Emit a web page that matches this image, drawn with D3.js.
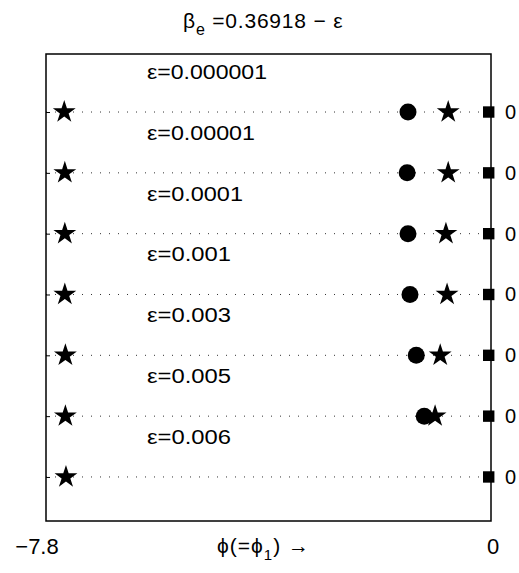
<!DOCTYPE html>
<html><head><meta charset="utf-8">
<script src="https://cdn.jsdelivr.net/npm/d3@7"></script>
<style>body{margin:0;background:#fff}svg{display:block;font-family:"Liberation Sans",Arial,sans-serif}</style>
</head><body><svg id="c" width="519" height="573"></svg>
<script>
const rows = [1,2,3,4,5,6,7];
const epsLabels = ["ε=0.000001","ε=0.00001","ε=0.0001","ε=0.001","ε=0.003","ε=0.005","ε=0.006"];
const leftStars = [-7.48,-7.47,-7.47,-7.47,-7.46,-7.46,-7.45];
const circles = [-1.455,-1.47,-1.455,-1.42,-1.31,-1.17];
const rightStars = [-0.75,-0.75,-0.79,-0.77,-0.89,-0.98];
const squares = [-0.04,-0.04,-0.04,-0.04,-0.04,-0.04,-0.04];
const rightTickLabels = ["0","0","0","0","0","0","0"];
const xTickLabels = ["\u22127.8","0"];
const xTicks = [-7.8,0];

const svg = d3.select("#c");
const x = d3.scaleLinear().domain([-7.8,0]).range([46,491]);
const y = d3.scaleLinear().domain([0.046,7.724]).range([54,521]);

// dotted lines
svg.append("g").selectAll("line").data(rows).join("line")
  .attr("x1",x(-7.8)).attr("x2",x(0)).attr("y1",d=>y(d)).attr("y2",d=>y(d))
  .attr("stroke","#333").attr("stroke-width",1).attr("stroke-dasharray","1,8");

// box
svg.append("rect").attr("x",x(-7.8)).attr("y",y(0.046)).attr("width",x(0)-x(-7.8)).attr("height",y(7.724)-y(0.046))
  .attr("fill","none").attr("stroke","#000").attr("stroke-width",1.5);

// left ticks
svg.append("g").attr("transform",`translate(${x(-7.8)},0)`)
  .call(d3.axisRight(y).tickValues(rows).tickSize(4).tickFormat(""))
  .call(g=>g.select(".domain").remove());
// right ticks + labels
svg.append("g").attr("transform",`translate(${x(0)},0)`)
  .call(d3.axisLeft(y).tickValues(rows).tickSize(4).tickFormat(""))
  .call(g=>g.select(".domain").remove());
svg.append("g").selectAll("text").data(rows).join("text")
  .attr("x",x(0)+14).attr("y",d=>y(d)).attr("dy","0.35em")
  .attr("font-size",20).text((d,i)=>rightTickLabels[i]);

const star = d3.symbol().type(d3.symbolStar).size(162);
const circ = d3.symbol().type(d3.symbolCircle).size(227);
const sq = d3.symbol().type(d3.symbolSquare).size(130);

svg.append("g").selectAll("path").data(leftStars).join("path")
  .attr("transform",(d,i)=>`translate(${x(d)},${y(rows[i])})`).attr("d",star).attr("fill","#000");
svg.append("g").selectAll("path").data(circles).join("path")
  .attr("transform",(d,i)=>`translate(${x(d)},${y(rows[i])})`).attr("d",circ).attr("fill","#000");
svg.append("g").selectAll("path").data(rightStars).join("path")
  .attr("transform",(d,i)=>`translate(${x(d)},${y(rows[i])})`).attr("d",star).attr("fill","#000");
svg.append("g").selectAll("path").data(squares).join("path")
  .attr("transform",(d,i)=>`translate(${x(d)},${y(rows[i])})`).attr("d",sq).attr("fill","#000");

// epsilon labels
svg.append("g").selectAll("text").data(epsLabels).join("text")
  .attr("x",x(-6.03)).attr("y",(d,i)=>y(rows[i]-0.66)).attr("dy","0.35em")
  .attr("font-size",20).attr("textLength",(d)=>d.length*12).attr("lengthAdjust","spacingAndGlyphs").text(d=>d);

// x tick labels
svg.append("g").selectAll("text").data(xTicks).join("text")
  .attr("x",(d,i)=>x(d)-(i===0?9:-2)).attr("y",546).attr("dy","0.35em").attr("text-anchor","middle")
  .attr("font-size",22).text((d,i)=>xTickLabels[i]);

// x label
const xl = svg.append("text").attr("x",217).attr("y",553).attr("font-size",21).attr("letter-spacing",1);
xl.append("tspan").text("ϕ(=ϕ");
xl.append("tspan").attr("font-size",15).attr("dy",7).text("1");
xl.append("tspan").attr("dy",-7).text(") →");

// title
const t = svg.append("text").attr("x",183).attr("y",28).attr("font-size",21).attr("letter-spacing",0.8);
t.append("tspan").text("β");
t.append("tspan").attr("font-size",16).attr("dy",7).text("e");
t.append("tspan").attr("dy",-7).text(" =0.36918 − ε");
</script></body></html>
